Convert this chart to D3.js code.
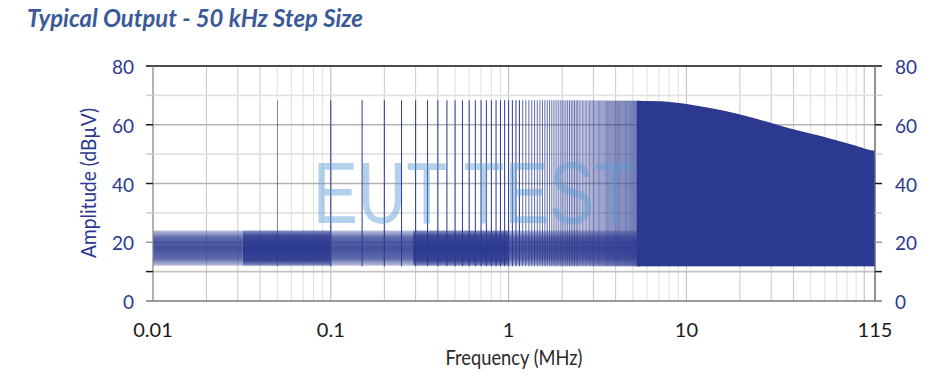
<!DOCTYPE html>
<html>
<head>
<meta charset="utf-8">
<script src="https://cdn.jsdelivr.net/npm/d3@7"></script>
<style>
  body { margin: 0; background: #fff; }
  svg { display: block; }
</style>
</head>
<body>
<svg id="chart" width="935" height="385"></svg>
<script>
// comb: one line every 50 kHz
const combStepMHz = 0.05
const combLastMHz = 115
const combFloorDb = 11.8
// above this the lines merge into a solid block
const combSolidFromMHz = 5.25

// comb top envelope
const envFreq = [0.05, 1, 5, 7.2, 10.2, 15.6, 23.9, 37, 57, 87, 115]
const envAmp = [68.3, 68.3, 68.2, 68.0, 67.0, 65.0, 62.3, 59.0, 56.2, 53.1, 51.2]

// noise floor bands (MHz), 12..24 dBuV, dense or sparse texture
const noiseStart = [0.01, 0.032, 0.1, 0.29, 1.0]
const noiseEnd = [0.032, 0.1, 0.29, 1.0, 5.3]
const noiseDense = [false, true, false, true, false]
const noiseLow = 12
const noiseHigh = 24

const yTicks = [0, 10, 20, 30, 40, 50, 60, 70, 80]
const yLabels = [0, 20, 40, 60, 80]
const xLabels = [0.01, 0.1, 1, 10, 115]

const blue = '#2b3990'
const labelFont = 'Lato, sans-serif'

const svg = d3.select('#chart')
const plotLeft = 153, plotRight = 875, plotTop = 66, plotBottom = 301

const x = d3.scaleLog().domain([0.01, 115]).range([plotLeft, plotRight])
const y = d3.scaleLinear().domain([0, 80]).range([plotBottom, plotTop])

const defs = svg.append('defs')

// title
svg.append('text').text('Typical Output - 50 kHz Step Size')
  .attr('x', 27).attr('y', 27)
  .attr('textLength', 336).attr('lengthAdjust', 'spacingAndGlyphs')
  .style('font-family', 'Lato, sans-serif').style('font-style', 'italic').style('font-weight', 700)
  .style('font-size', '25px').attr('fill', '#3b5a9a')

// vertical grid
svg.append('g').selectAll('line')
  .data(x.ticks())
  .enter().append('line')
  .attr('x1', d => x(d)).attr('x2', d => x(d))
  .attr('y1', plotTop).attr('y2', plotBottom)
  .attr('stroke', d => {
    const m = Math.round(d / Math.pow(10, Math.floor(Math.log10(d) + 1e-9)))
    return m === 1 ? '#b8b8b8' : (m <= 4 ? '#cacaca' : '#dedede')
  })
  .attr('stroke-width', 1)

// horizontal grid
svg.append('g').selectAll('line')
  .data(yTicks.filter(d => d > 0 && d < 80))
  .enter().append('line')
  .attr('x1', plotLeft).attr('x2', plotRight)
  .attr('y1', d => y(d)).attr('y2', d => y(d))
  .attr('stroke', d => d % 20 === 0 ? '#b2b2b2' : (d === 10 ? '#c4c4c4' : '#e2e2e2'))
  .attr('stroke-width', 1.6)

// noise floor: vertical fade standing in for the ragged trace
const fades = {
  sparse: [[0, 0.3], [0.2, 0.75], [0.5, 0.88], [0.8, 0.75], [1, 0.3]],
  dense: [[0, 0.55], [0.15, 0.92], [0.5, 1], [0.85, 0.94], [1, 0.55]]
}
Object.keys(fades).forEach(k => {
  const g = defs.append('linearGradient').attr('id', 'noise-' + k)
    .attr('gradientUnits', 'userSpaceOnUse')
    .attr('x1', 0).attr('x2', 0).attr('y1', y(noiseHigh)).attr('y2', y(noiseLow))
  fades[k].forEach(s => g.append('stop').attr('offset', s[0]).attr('stop-color', blue).attr('stop-opacity', s[1]))
})

svg.append('g').selectAll('rect')
  .data(noiseStart)
  .enter().append('rect')
  .attr('x', (d) => x(d))
  .attr('width', (d, i) => x(noiseEnd[i]) - x(d))
  .attr('y', y(noiseHigh)).attr('height', y(noiseLow) - y(noiseHigh))
  .attr('fill', (d, i) => noiseDense[i] ? 'url(#noise-dense)' : 'url(#noise-sparse)')

// envelope clip for the comb
const envelope = envFreq.map((f, i) => ({ f: f, a: envAmp[i] }))
const envArea = d3.area()
  .x(d => x(d.f)).y0(y(0)).y1(d => y(d.a))
  .curve(d3.curveMonotoneX)
defs.append('clipPath').attr('id', 'envClip')
  .append('path').attr('d', envArea(envelope.concat([{ f: 115.5, a: envAmp[envAmp.length - 1] }])))

const comb = svg.append('g').attr('clip-path', 'url(#envClip)')
const combFreq = d3.range(1, Math.round(combLastMHz / combStepMHz) + 1).map(k => k * combStepMHz)
comb.selectAll('line')
  .data(combFreq.filter(f => f < combSolidFromMHz + 0.3))
  .enter().append('line')
  .attr('x1', d => x(d)).attr('x2', d => x(d))
  .attr('y1', y(combFloorDb)).attr('y2', y(80))
  .attr('stroke', blue)
  .attr('stroke-width', d => d < 1.2 ? 1 : (d < 2.5 ? 0.75 : 0.6))
comb.append('rect')
  .attr('x', x(combSolidFromMHz)).attr('width', x(combLastMHz) - x(combSolidFromMHz))
  .attr('y', y(80)).attr('height', y(combFloorDb) - y(80))
  .attr('fill', blue)

// watermark
svg.append('text').text('EUT TEST')
  .attr('x', 313).attr('y', 223)
  .attr('textLength', 322).attr('lengthAdjust', 'spacingAndGlyphs')
  .style('font-family', '"Liberation Sans", sans-serif').style('font-size', '88px')
  .attr('fill', '#5b9bd5').attr('opacity', 0.45)

// frame
svg.append('line').attr('x1', 146).attr('x2', 882).attr('y1', plotTop).attr('y2', plotTop).attr('stroke', '#111').attr('stroke-width', 1.5)
svg.append('line').attr('x1', 146).attr('x2', 882).attr('y1', plotBottom).attr('y2', plotBottom).attr('stroke', '#7a7a7a').attr('stroke-width', 1.5)
svg.append('line').attr('x1', plotLeft).attr('x2', plotLeft).attr('y1', plotTop).attr('y2', plotBottom).attr('stroke', '#8a8a8a').attr('stroke-width', 1)
svg.append('line').attr('x1', plotRight).attr('x2', plotRight).attr('y1', plotTop).attr('y2', plotBottom).attr('stroke', '#6e6e6e').attr('stroke-width', 1.5)

// y ticks both sides
const tickColor = d => (d === 0 || d === 20) ? '#9a9a9a' : (d % 20 === 0 || d === 10 ? '#1a1a1a' : '#cfcfcf')
svg.append('g').selectAll('line')
  .data(yTicks.filter(d => d > 0 && d < 80))
  .enter().append('line')
  .attr('x1', 146).attr('x2', plotLeft).attr('y1', d => y(d)).attr('y2', d => y(d))
  .attr('stroke', tickColor).attr('stroke-width', 1.5)
svg.append('g').selectAll('line')
  .data(yTicks.filter(d => d > 0 && d < 80))
  .enter().append('line')
  .attr('x1', plotRight).attr('x2', 882).attr('y1', d => y(d)).attr('y2', d => y(d))
  .attr('stroke', tickColor).attr('stroke-width', 1.5)

svg.append('g').selectAll('text')
  .data(yLabels)
  .enter().append('text')
  .text(d => d)
  .attr('x', 134).attr('y', d => y(d) + 8)
  .attr('text-anchor', 'end')
  .style('font-family', labelFont).style('font-size', '19px').attr('fill', blue)
svg.append('g').selectAll('text')
  .data(yLabels)
  .enter().append('text')
  .text(d => d)
  .attr('x', 895).attr('y', d => y(d) + 8)
  .style('font-family', labelFont).style('font-size', '19px').attr('fill', blue)

// x labels
svg.append('g').selectAll('text')
  .data(xLabels)
  .enter().append('text')
  .text(d => d)
  .attr('x', d => x(d)).attr('y', 337)
  .attr('text-anchor', 'middle')
  .style('font-family', labelFont).style('font-size', '20px').attr('fill', '#1a1a1a')

// axis titles
svg.append('text').text('Frequency (MHz)')
  .attr('x', 514).attr('y', 365).attr('text-anchor', 'middle')
  .attr('textLength', 137).attr('lengthAdjust', 'spacingAndGlyphs')
  .style('font-family', labelFont).style('font-size', '22px').attr('fill', '#2a2a2a')

svg.append('text').text('Amplitude (dBµV)')
  .attr('transform', 'translate(96,183) rotate(-90)')
  .attr('text-anchor', 'middle')
  .attr('textLength', 150).attr('lengthAdjust', 'spacingAndGlyphs')
  .style('font-family', labelFont).style('font-size', '22px').attr('fill', blue)
</script>
</body>
</html>
